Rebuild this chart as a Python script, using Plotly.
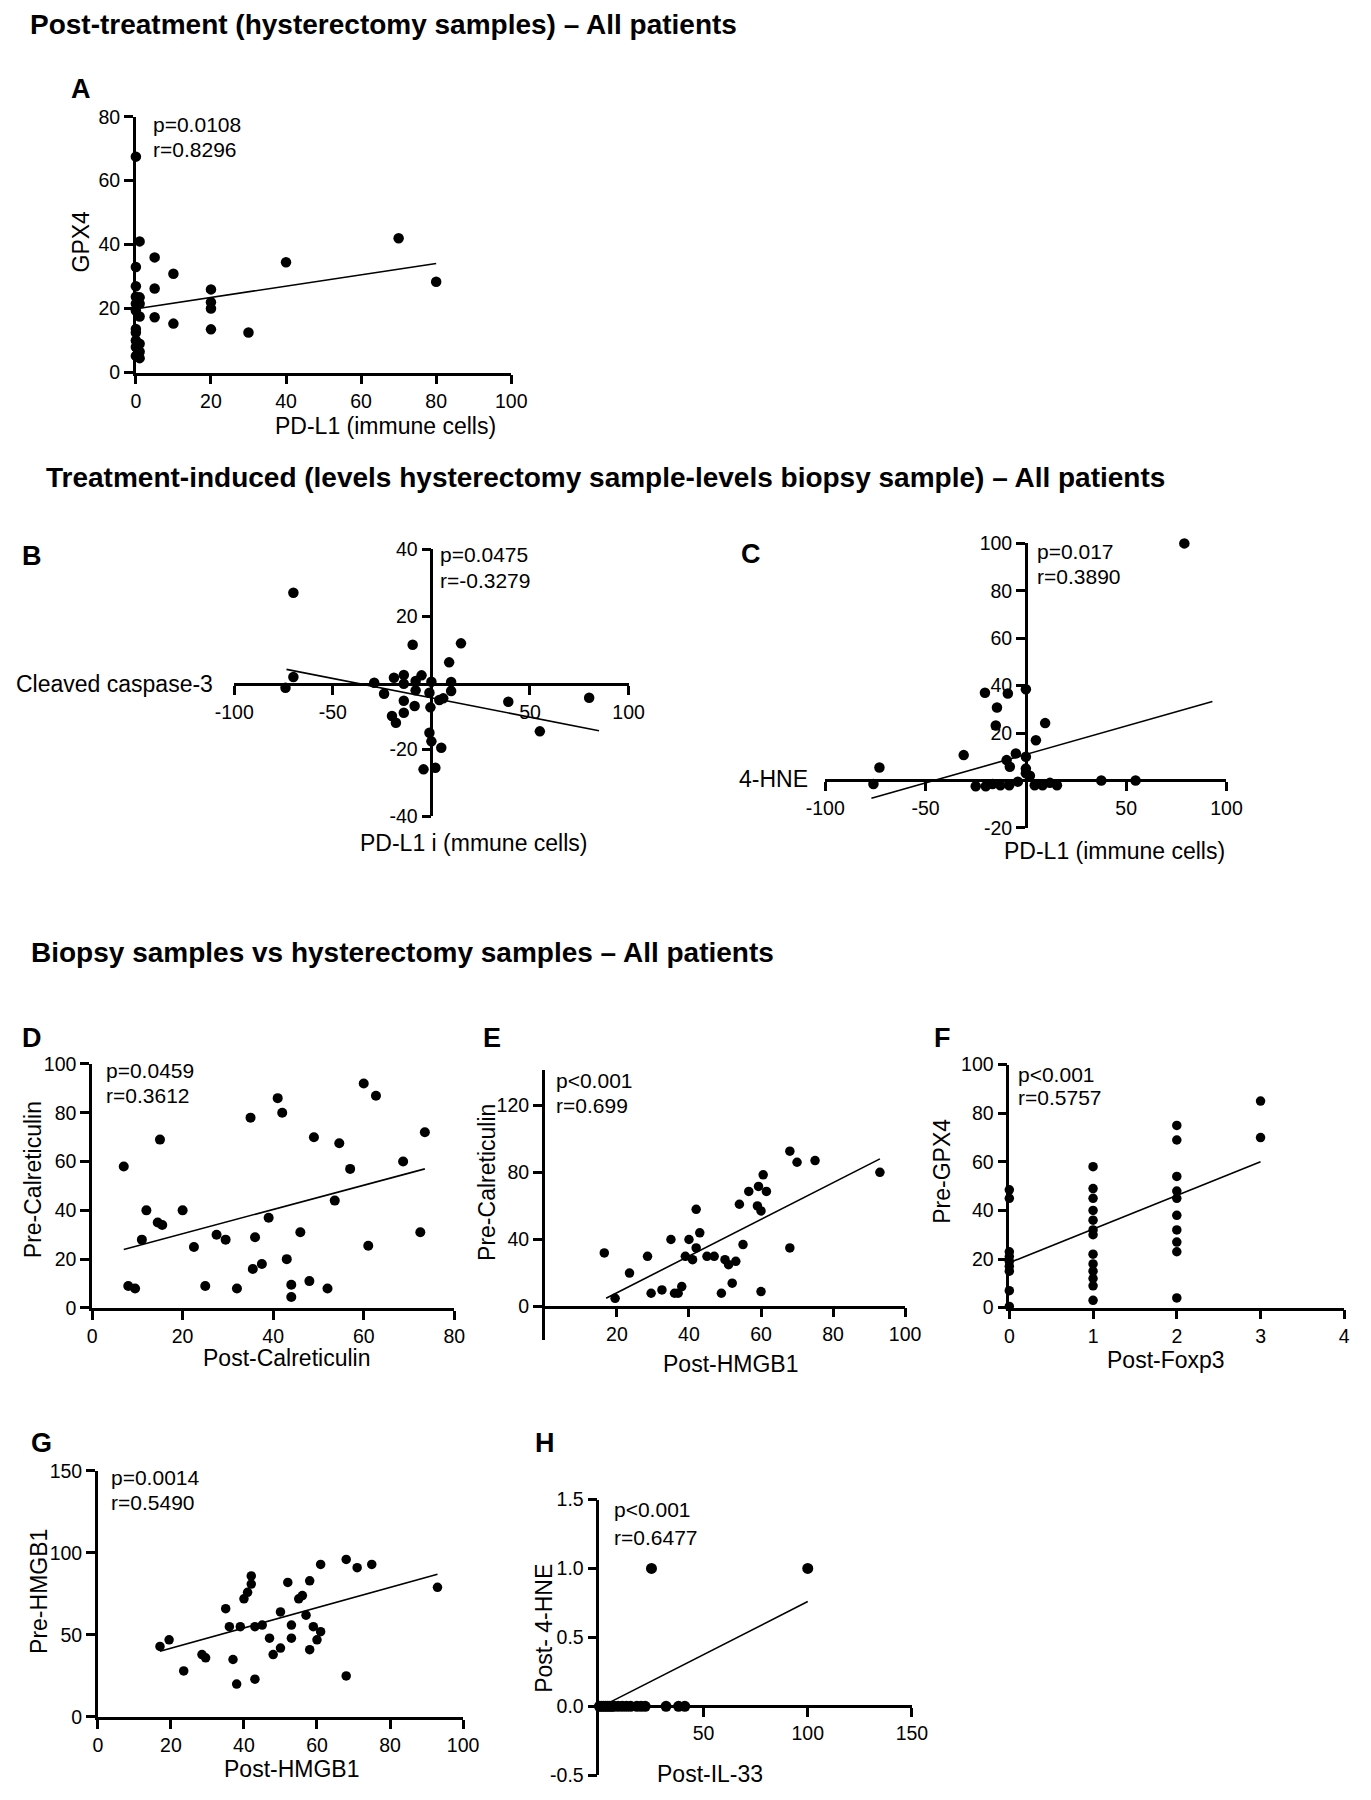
import plotly.graph_objects as go

W, H = 1371, 1800
FONT = "Liberation Sans, Arial, Helvetica, sans-serif"

# ---------------- data ----------------
# A: PD-L1 (immune cells) vs GPX4
a_x = [0, 1, 0, 0, 0, 1, 0, 1, 0, 1, 0, 0, 1, 0, 1, 0, 1, 0, 5, 5, 5, 10, 10, 20, 20, 20, 20, 30, 40, 70, 80]
a_y = [67.5, 41, 33, 27, 23.7, 23.5, 21.5, 21.5, 19.4, 17.5, 13.6, 12.5, 9, 8, 6.5, 5.2, 4.5, 10, 36, 26.3, 17.3, 30.9, 15.3, 26, 22, 20, 13.5, 12.5, 34.5, 42, 28.4]
a_fit_x = [1.5, 80]
a_fit_y = [20.2, 34.1]

# B: PD-L1 change vs cleaved caspase-3 change
b_x = [-70, -70, -74, -29, -24, -19, -14, -14, -9.5, -8, -8, -8.5, -14, -14, -20, -18, -5, 0, -1, -0.5, -1, 0, 5, 4, 6, 9, 10, 10, 15, 39, 55, 80, -4, 2]
b_y = [27, 1.7, -1.5, 0, -3.3, 1.5, 2.3, -0.3, 11.4, 0.5, -2.3, -7, -5.4, -9, -10, -12, 2.2, 0.3, -3, -7.4, -15, -17.6, -19.5, -5.2, -4.7, 6.1, 0.2, -2.5, 11.8, -5.7, -14.6, -4.5, -26, -25.5]
b_fit_x = [-73.5, 85]
b_fit_y = [4.0, -14.4]

# C: PD-L1 change vs 4-HNE change
c_x = [79, -20.4, -9, 0, -14.4, -15, 9.6, 5, -5, -31, -9.6, 0, -73, -76, -25, -20, -16.6, -12.7, -8.3, -4, 0, 4.4, 8.3, 12, 15.5, 37.6, 54.7, -8, 0, 2]
c_y = [100, 37, 36.7, 38.5, 30.8, 23.2, 24.2, 17, 11.4, 10.7, 8.6, 10, 5.5, -1.5, -2.4, -2.4, -1.5, -2, -2, -0.5, 3, -2, -2, -1, -2, 0, 0, 5.8, 5, 2]
c_fit_x = [-77, 93]
c_fit_y = [-7.5, 33.3]

# D: Post- vs Pre-Calreticulin
d_x = [7, 15, 8, 9.5, 11, 12, 14.5, 15.5, 20, 22.5, 25, 27.5, 29.5, 32, 35, 35.5, 36, 37.5, 39, 41, 42, 43, 44, 44, 46, 48, 49, 52, 53.6, 54.6, 57, 60, 62.7, 61, 68.7, 72.5, 73.5]
d_y = [58, 69, 9, 8, 28, 40, 35, 34, 40, 25, 9, 30, 28, 8, 78, 16, 29, 18, 37, 86, 80, 20, 4.5, 9.5, 31, 11, 70, 8, 44, 67.5, 57, 92, 87, 25.5, 60, 31, 72]
d_fit_x = [7, 73.5]
d_fit_y = [24, 57]

# E: Post-HMGB1 vs Pre-Calreticulin
e_x = [16.5, 19.5, 23.5, 28.5, 29.5, 32.5, 35, 36, 37, 38, 39, 40, 41, 42, 42, 43, 45, 47, 49, 50, 51, 52, 53, 54, 55, 56.6, 59.3, 61.5, 60.6, 59, 60, 60, 68, 68, 70, 75, 93]
e_y = [32, 5, 20, 30, 8, 10, 40, 8, 8, 12, 30, 40, 28, 35, 58, 44, 30, 30, 8, 28, 25, 14, 27, 61, 37, 68.6, 71.6, 68.6, 78.5, 60, 9, 57, 92.6, 35, 86, 87, 80]
e_fit_x = [17, 93]
e_fit_y = [5, 88]

# F: Post-Foxp3 vs Pre-GPX4
f_x = [0] * 9 + [1] * 13 + [2] * 10 + [3] * 2
f_y = [48.5, 45, 23, 21, 19, 17, 15, 7, 0.5,
       58, 49, 45, 40, 36, 32, 30, 22, 18, 15, 12, 9, 3,
       75, 69, 54, 48, 45, 38, 32, 27, 23, 4,
       85, 70]
f_fit_x = [0, 3]
f_fit_y = [18.5, 60]

# G: Post-HMGB1 vs Pre-HMGB1
g_x = [17, 19.5, 23.5, 28.5, 29.5, 35, 36, 37, 38, 39, 40, 41, 42, 42, 43, 43, 45, 47, 48, 50, 50, 52, 53, 53, 55, 56, 57, 58, 58, 59, 60, 61, 61, 68, 68, 71, 75, 93]
g_y = [43, 47, 28, 38, 36, 66, 55, 35, 20, 55, 72, 76, 86, 81, 55, 23, 56, 48, 38, 64, 42, 82, 56, 48, 72, 74, 62, 83, 41, 55, 47, 93, 52, 96, 25, 91, 93, 79]
g_fit_x = [17, 93]
g_fit_y = [40, 87]

# H: Post-IL-33 vs Post-4-HNE
h_x = [0, 1, 2, 3, 4, 5, 6, 7, 9, 11, 13, 15, 18, 20, 22, 32, 38, 41, 25, 100]
h_y = [0] * 18 + [1, 1]
h_fit_x = [0, 100]
h_fit_y = [-0.01, 0.76]

# ---------------- helpers ----------------
def xdom(a, b):
    return [a / W, b / W]

def ydom(top, bottom):
    return [1 - bottom / H, 1 - top / H]

AX = dict(showline=True, linecolor="black", linewidth=2.6, ticks="outside",
          ticklen=9, tickwidth=2.6, tickcolor="black", showgrid=False,
          zeroline=False, tickfont=dict(family=FONT, size=19.5, color="black"),
          tickmode="array")

fig = go.Figure()
annots = []

def panel(n, xs, ys, fx, fy, xd, yd, xr, yr, xt, yt, xfree=None, yfree=None,
          msize=10.5, ytext=None, xtext=None):
    xa = "x" if n == 1 else f"x{n}"
    ya = "y" if n == 1 else f"y{n}"
    fig.add_trace(go.Scatter(x=fx, y=fy, mode="lines", xaxis=xa, yaxis=ya,
                             line=dict(color="black", width=1.6), cliponaxis=False,
                             hoverinfo="skip"))
    fig.add_trace(go.Scatter(x=xs, y=ys, mode="markers", xaxis=xa, yaxis=ya,
                             marker=dict(color="black", size=msize), cliponaxis=False))
    xk = dict(AX, domain=xd, range=xr, tickvals=xt,
              ticktext=xtext if xtext else [str(v) for v in xt])
    yk = dict(AX, domain=yd, range=yr, tickvals=yt,
              ticktext=ytext if ytext else [str(v) for v in yt])
    if xfree is not None:
        xk.update(anchor="free", position=1 - xfree / H)
    else:
        xk.update(anchor=ya)
    if yfree is not None:
        yk.update(anchor="free", position=yfree / W)
    else:
        yk.update(anchor=xa)
    key = "" if n == 1 else str(n)
    fig.update_layout(**{f"xaxis{key}": xk, f"yaxis{key}": yk})

# A
panel(1, a_x, a_y, a_fit_x, a_fit_y, xdom(119, 504.5), ydom(107, 366), [0, 100], [0, 80],
      [0, 20, 40, 60, 80, 100], [0, 20, 40, 60, 80])
# B
panel(2, b_x, b_y, b_fit_x, b_fit_y, xdom(220, 625), ydom(545, 815), [-100, 100], [-40, 40],
      [-100, -50, 50, 100], [-40, -20, 20, 40], xfree=681.7, yfree=422.5)
# C
panel(3, c_x, c_y, c_fit_x, c_fit_y, xdom(827, 1239), ydom(539, 827), [-100, 100], [-20, 100],
      [-100, -50, 50, 100], [-20, 20, 40, 60, 80, 100], xfree=779, yfree=1033)
# D
panel(4, d_x, d_y, d_fit_x, d_fit_y, xdom(74, 446), ydom(1066, 1313), [0, 80], [0, 100],
      [0, 20, 40, 60, 80], [0, 20, 40, 60, 80, 100], msize=10)
# E
panel(5, e_x, e_y, e_fit_x, e_fit_y, xdom(539, 909), ydom(1072, 1345.7), [0, 100], [-20, 141],
      [20, 40, 60, 80, 100], [0, 40, 80, 120], xfree=1311.7, msize=9.5)
# F
panel(6, f_x, f_y, f_fit_x, f_fit_y, xdom(1016, 1360), ydom(1066.7, 1312.7), [0, 4], [0, 100],
      [0, 1, 2, 3, 4], [0, 20, 40, 60, 80, 100], msize=9.5)
# G
panel(7, g_x, g_y, g_fit_x, g_fit_y, xdom(80, 455), ydom(1478, 1727), [0, 100], [0, 150],
      [0, 20, 40, 60, 80, 100], [0, 50, 100, 150], msize=9.5)
# H
panel(8, h_x, h_y, h_fit_x, h_fit_y, xdom(595, 916), ydom(1507, 1786), [0, 150], [-0.5, 1.5],
      [50, 100, 150], [-0.5, 0, 0.5, 1, 1.5], xfree=1716, msize=11,
      ytext=["-0.5", "0.0", "0.5", "1.0", "1.5"])

def text(x, y, s, size=23, bold=False, xanchor="left", angle=0):
    annots.append(dict(x=x / W, y=1 - y / H, xref="paper", yref="paper", text=s,
                       showarrow=False, xanchor=xanchor, yanchor="middle", textangle=angle,
                       font=dict(family=FONT, size=size, color="black",
                                 weight="bold" if bold else "normal")))

# section titles
text(8, 14, "Post-treatment (hysterectomy samples) – All patients", 28, True)
text(25, 472, "Treatment-induced (levels hysterectomy sample-levels biopsy sample) – All patients", 28, True)
text(9, 953, "Biopsy samples vs hysterectomy samples – All patients", 28, True)

# panel letters
for lx, ly, lt in [(63, 79, "A"), (12, 552, "B"), (751, 550, "C"), (12, 1040, "D"),
                   (485, 1040, "E"), (947, 1040, "F"), (22, 1450, "G"), (539, 1450, "H")]:
    text(lx, ly, lt, 27, True, xanchor="center")

# stats
for px, py1, py2, p, r in [(135, 115, 140, "p=0.0108", "r=0.8296"),
                           (429, 550, 577, "p=0.0475", "r=-0.3279"),
                           (1042, 547, 573, "p=0.017", "r=0.3890"),
                           (86, 1073, 1098, "p=0.0459", "r=0.3612"),
                           (548, 1083, 1108, "p<0.001", "r=0.699"),
                           (1023, 1077, 1100, "p<0.001", "r=0.5757"),
                           (91, 1485, 1510, "p=0.0014", "r=0.5490"),
                           (608, 1517, 1545, "p<0.001", "r=0.6477")]:
    text(px, py1, p, 21)
    text(px, py2, r, 21)

# axis titles
text(63, 233, "GPX4", 23, xanchor="center", angle=-90)
text(375, 420, "PD-L1 (immune cells)", 23, xanchor="center")
text(200, 681.7, "Cleaved caspase-3", 23, xanchor="right")
text(466, 842, "PD-L1 i (mmune cells)", 23, xanchor="center")
text(811, 777, "4-HNE", 23, xanchor="right")
text(1124, 850, "PD-L1 (immune cells)", 23, xanchor="center")
text(13, 1183, "Pre-Calreticulin", 23, xanchor="center", angle=-90)
text(274, 1364, "Post-Calreticulin", 23, xanchor="center")
text(479, 1186, "Pre-Calreticulin", 23, xanchor="center", angle=-90)
text(730, 1370, "Post-HMGB1", 23, xanchor="center")
text(946, 1175, "Pre-GPX4", 23, xanchor="center", angle=-90)
text(1177, 1366, "Post-Foxp3", 23, xanchor="center")
text(20, 1600, "Pre-HMGB1", 23, xanchor="center", angle=-90)
text(279, 1780, "Post-HMGB1", 23, xanchor="center")
text(538, 1637, "Post- 4-HNE", 23, xanchor="center", angle=-90)
text(709, 1785, "Post-IL-33", 23, xanchor="center")

fig.update_layout(width=W, height=H, margin=dict(l=0, r=0, t=0, b=0),
                  paper_bgcolor="white", plot_bgcolor="rgba(0,0,0,0)",
                  showlegend=False, annotations=annots,
                  font=dict(family=FONT, color="black"))

fig.write_html("out.html", config={"displayModeBar": False},
               post_script="document.body.style.margin='0px';"
                           "document.body.style.padding='0px';"
                           "document.documentElement.style.overflow='hidden';")
